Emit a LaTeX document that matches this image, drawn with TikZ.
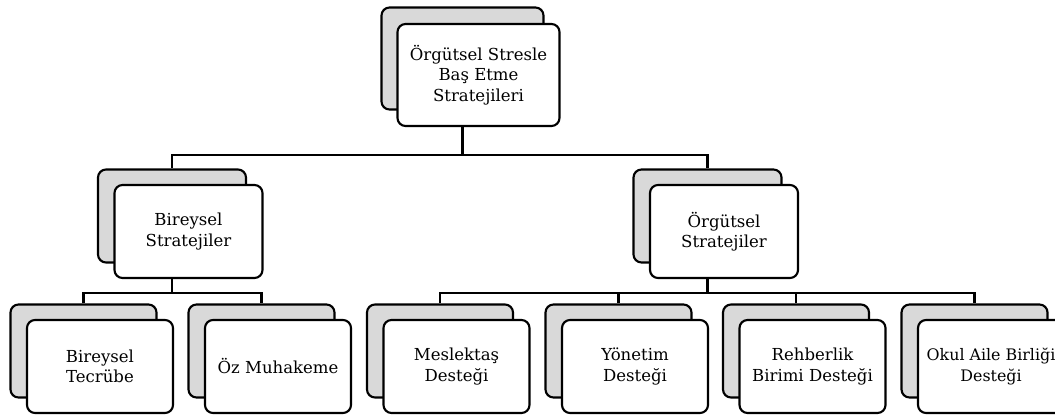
\documentclass[tikz,border=0pt]{standalone}
\usepackage{fontspec}
\setmainfont{DejaVu Serif}
\usetikzlibrary{positioning}
\definecolor{backgray}{HTML}{D9D9D9}

\tikzset{
    card/.style={draw=black, line width=1.6pt, rounded corners=6pt, inner sep=1pt},
    backbox/.style={card, fill=backgray},
    frontbox/.style={card, fill=white, align=center,
        font=\fontsize{12.4}{15.3}\selectfont},
    bigsize/.style={minimum width=121.5pt, minimum height=76.5pt},
    midsize/.style={minimum width=111pt, minimum height=69.75pt},
    smallsize/.style={minimum width=109.5pt, minimum height=69.75pt},
    link/.style={draw=black, line width=1.6pt}
}

\begin{document}
\begin{tikzpicture}[x=0.75pt, y=-0.75pt]
        \useasboundingbox (0,0) rectangle (1055,414);
        % top
        \begin{scope}
            \node[backbox, bigsize] (rootb) at (462.5,58.5) {};
            \node[frontbox, bigsize] (root) at ([shift={(16,16.5)}]rootb) {Örgütsel Stresle\\Baş Etme\\Stratejileri};
        \end{scope}
        % second row
        \begin{scope}
            \node[backbox, midsize] (bireyb) at (172,216) {};
            \node[frontbox, midsize] (birey) at ([shift={(16.5,15.5)}]bireyb) {Bireysel\\Stratejiler};
            \node[backbox, midsize] (orgutb) at (707.5,216) {};
            \node[frontbox, midsize] (orgut) at ([shift={(16.5,15.5)}]orgutb) {Örgütsel\\Stratejiler};
        \end{scope}
        % third row
        \begin{scope}
            \node[backbox, smallsize] (tecrubeb) at (83.5,351) {};
            \node[frontbox, smallsize] (tecrube) at ([shift={(16.5,15.5)}]tecrubeb) {Bireysel\\Tecrübe};
            \node[backbox, smallsize] (ozb) at (261.5,351) {};
            \node[frontbox, smallsize] (oz) at ([shift={(16.5,15.5)}]ozb) {Öz Muhakeme};
            \node[backbox, smallsize] (meslekb) at (440,351) {};
            \node[frontbox, smallsize] (meslek) at ([shift={(16.5,15.5)}]meslekb) {Meslektaş\\Desteği};
            \node[backbox, smallsize] (yonetimb) at (618.5,351) {};
            \node[frontbox, smallsize] (yonetim) at ([shift={(16.5,15.5)}]yonetimb) {Yönetim\\Desteği};
            \node[backbox, smallsize] (rehberb) at (796,351) {};
            \node[frontbox, smallsize] (rehber) at ([shift={(16.5,15.5)}]rehberb) {Rehberlik\\Birimi Desteği};
            \node[backbox, smallsize] (okulb) at (974.5,351) {};
            \node[frontbox, smallsize, font=\fontsize{11.9}{15.3}\selectfont] (okul) at ([shift={(16.5,15.5)}]okulb) {Okul Aile Birliği\\Desteği};
        \end{scope}
        % connectors
        \coordinate (busA) at (462.5,155);
        \coordinate (busB) at (172,293);
        \coordinate (busC) at (707.5,293);
        \draw[link] (root.south -| rootb) -- (busA);
        \draw[link] (bireyb.north) |- (busA) -| (orgutb.north);
        \draw[link] (birey.south -| bireyb) -- (busB);
        \draw[link] (tecrubeb.north) |- (busB) -| (ozb.north);
        \draw[link] (orgut.south -| orgutb) -- (busC);
        \draw[link] (meslekb.north) |- (busC) -| (okulb.north);
        \draw[link] (yonetimb.north) -- (yonetimb.north |- busC);
        \draw[link] (rehberb.north) -- (rehberb.north |- busC);
    \end{tikzpicture}
\end{document}
